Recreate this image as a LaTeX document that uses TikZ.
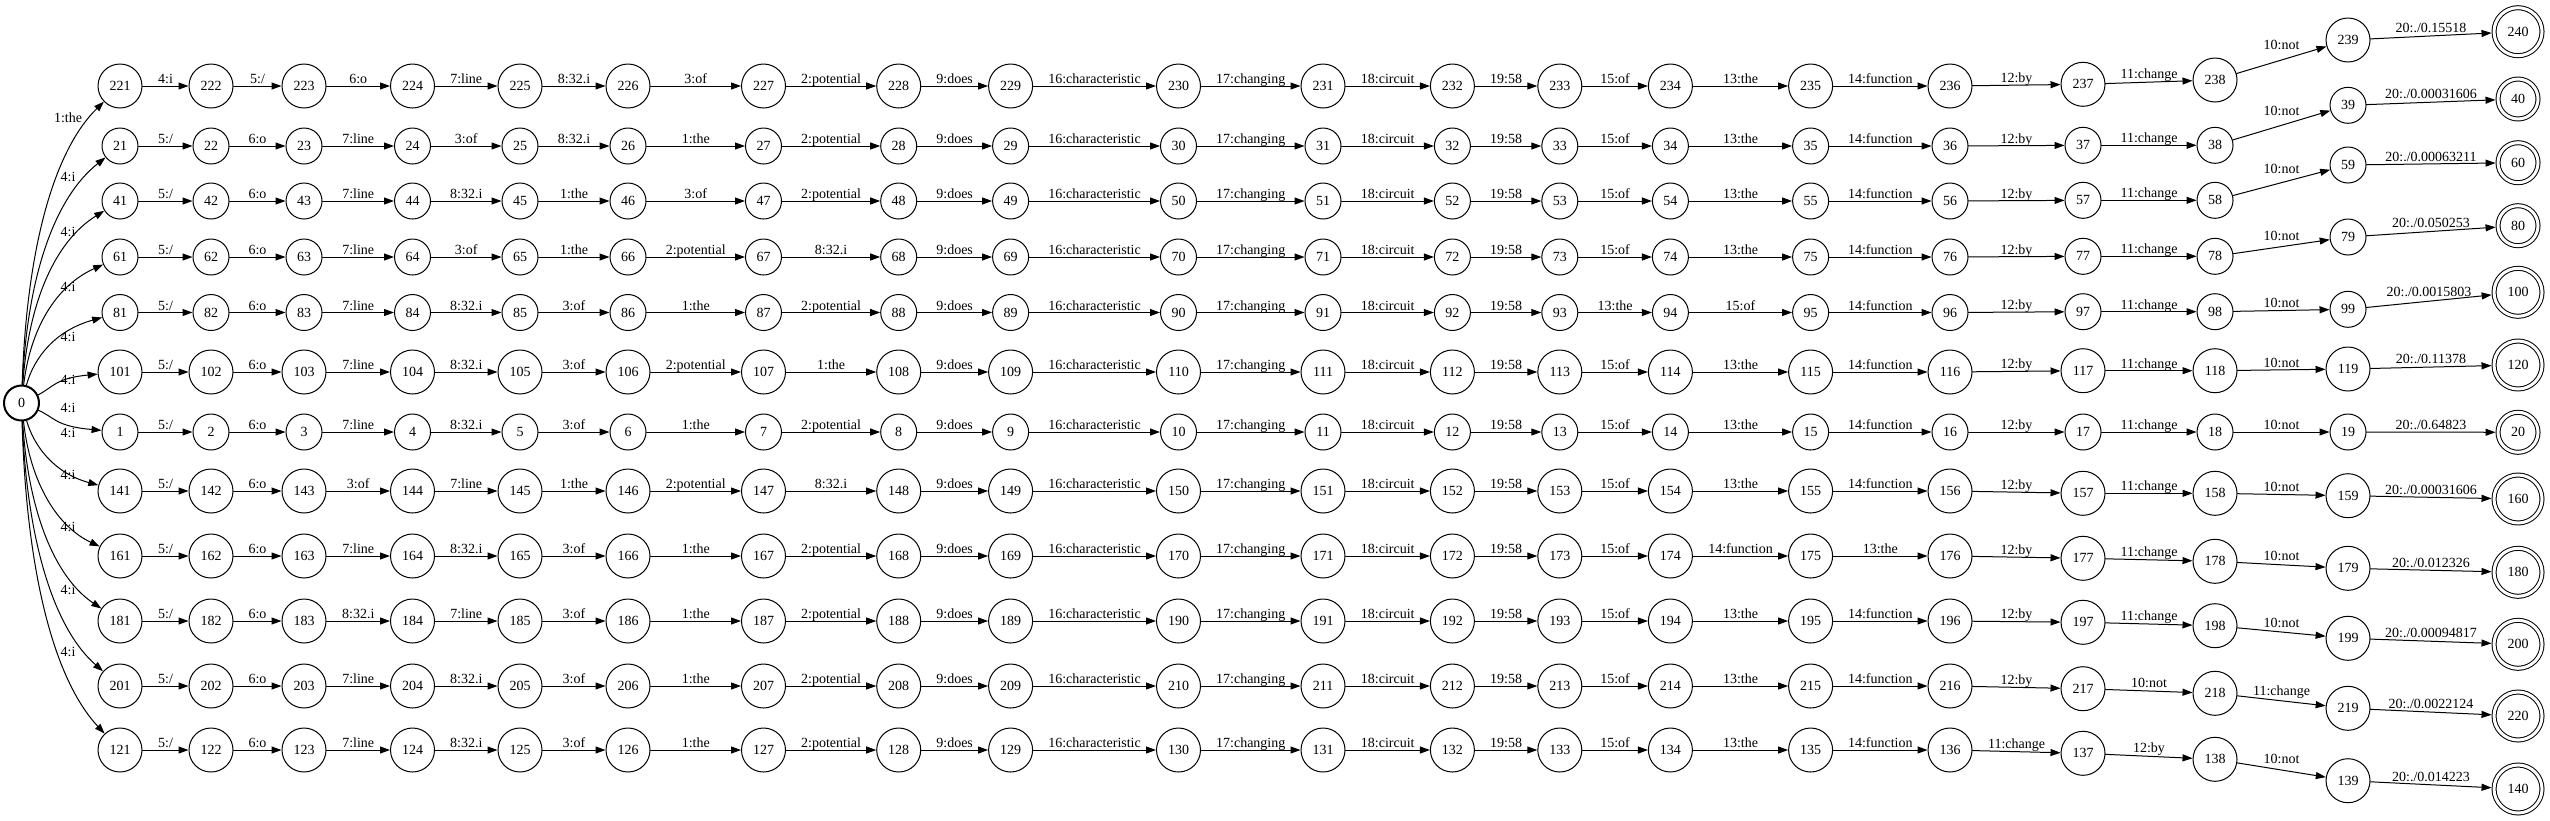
\documentclass[tikz,border=0pt]{standalone}
\usepackage{fontspec}
\setmainfont{Liberation Serif}
\usetikzlibrary{arrows.meta}

\tikzset{
  lab/.style={font=\fontsize{14}{16}\selectfont, inner sep=0pt, anchor=base},
  st/.style={circle, draw, line width=1pt, inner sep=0pt, minimum size=36pt, font=\fontsize{14}{16}\selectfont},
  bigst/.style={st, minimum size=44pt},
  startst/.style={st, line width=2pt, minimum size=35pt},
  fin/.style={st, double, double distance=3pt, minimum size=40pt, outer sep=2.5pt},
  bigfin/.style={fin, minimum size=48pt},
  tr/.style={-{Triangle[length=10pt,width=7pt]}, line width=1pt}
}

% x of the twenty columns
\newcommand\colx{{120,211,304,412.5,520,628,763.5,898.7,1010.6,1178.5,1323,1452.4,1559.8,1670.4,1810.6,1950,2083,2215,2348,2518}}
% y of column #2 of the current row
\newcommand\sety[2]{\pgfmathsetmacro#1{#2<17 ? \ya : (#2==17 ? \yb : (#2==18 ? \yc : (#2==19 ? \yd : \ye)))}}

% one path: first state, row y, y of the last four, arc label, its y, labels
\newcommand\fstrow[9]{%
  \def\ya{#2}\def\yb{#3}\def\yc{#4}\def\yd{#5}\def\ye{#6}%
  \foreach \i in {1,...,20}{%
    \pgfmathtruncatemacro\n{#1+\i-1}%
    \pgfmathsetmacro\xx{\colx[\i-1]}%
    \sety\yy\i
    \ifnum\i=20
      \ifnum\n>99 \node[bigfin] (n\n) at (\xx,\yy) {\n};\else\node[fin] (n\n) at (\xx,\yy) {\n};\fi
    \else
      \ifnum\n>99 \node[bigst] (n\n) at (\xx,\yy) {\n};\else\node[st] (n\n) at (\xx,\yy) {\n};\fi
    \fi
  }%
  % arc from the start state
  \pgfmathsetmacro\dy{#2-403}%
  \pgfmathsetmacro\cxa{24+900/abs(\dy)}%
  \pgfmathsetmacro\cya{403+0.5*\dy}%
  \pgfmathsetmacro\cyb{#2-0.2*\dy}%
  \draw[tr] (n0) .. controls (\cxa,\cya) and (55,\cyb) .. (n#1);
  \node[lab, anchor=center] (l#1) at (68,#8) {#7};
  % arcs along the path
  \foreach \lb [count=\i] in {#9}{%
    \pgfmathtruncatemacro\src{#1+\i-1}%
    \pgfmathtruncatemacro\dst{#1+\i}%
    \pgfmathtruncatemacro\j{\i+1}%
    \pgfmathsetmacro\xs{\colx[\i-1]}%
    \pgfmathsetmacro\xd{\colx[\i]}%
    \sety\ylo\i
    \sety\yhi\j
    \pgfmathsetmacro\lift{2.5+25*abs(\yhi-\ylo)/(\xd-\xs)}%
    \draw[tr] (n\src) -- (n\dst) node[lab, midway, yshift=\lift pt] {\lb};
  }%
}

\begin{document}
\begin{tikzpicture}[x=1pt, y=-1pt, line cap=round, line join=round]
\useasboundingbox (0,0) rectangle (2550,820);

\node[startst] (n0) at (21.5,403) {0};

\fstrow{221}{86}{84.3}{80}{40}{31.7}{1:the}{118}{4:i,5:/,6:o,7:line,8:32.i,3:of,2:potential,9:does,16:characteristic,17:changing,18:circuit,19:58,15:of,13:the,14:function,12:by,11:change,10:not,20:./0.15518}
\fstrow{21}{146}{145.3}{145.3}{105.3}{99}{4:i}{177}{5:/,6:o,7:line,3:of,8:32.i,1:the,2:potential,9:does,16:characteristic,17:changing,18:circuit,19:58,15:of,13:the,14:function,12:by,11:change,10:not,20:./0.00031606}
\fstrow{41}{201}{200.3}{200.3}{165}{162.7}{4:i}{232}{5:/,6:o,7:line,8:32.i,1:the,3:of,2:potential,9:does,16:characteristic,17:changing,18:circuit,19:58,15:of,13:the,14:function,12:by,11:change,10:not,20:./0.00063211}
\fstrow{61}{257}{256.3}{256.3}{237}{225.7}{4:i}{287}{5:/,6:o,7:line,3:of,1:the,2:potential,8:32.i,9:does,16:characteristic,17:changing,18:circuit,19:58,15:of,13:the,14:function,12:by,11:change,10:not,20:./0.050253}
\fstrow{81}{312.5}{311.7}{311.7}{309.3}{292.3}{4:i}{337}{5:/,6:o,7:line,8:32.i,3:of,1:the,2:potential,9:does,16:characteristic,17:changing,18:circuit,19:58,13:the,15:of,14:function,12:by,11:change,10:not,20:./0.0015803}
\fstrow{101}{372}{370.7}{370.7}{369}{365}{4:i}{380}{5:/,6:o,7:line,8:32.i,3:of,2:potential,1:the,9:does,16:characteristic,17:changing,18:circuit,19:58,15:of,13:the,14:function,12:by,11:change,10:not,20:./0.11378}
\fstrow{1}{432}{432}{432}{432}{432.3}{4:i}{408}{5:/,6:o,7:line,8:32.i,3:of,1:the,2:potential,9:does,16:characteristic,17:changing,18:circuit,19:58,15:of,13:the,14:function,12:by,11:change,10:not,20:./0.64823}
\fstrow{141}{491}{493.3}{493.3}{495.7}{499}{4:i}{433}{5:/,6:o,3:of,7:line,1:the,2:potential,8:32.i,9:does,16:characteristic,17:changing,18:circuit,19:58,15:of,13:the,14:function,12:by,11:change,10:not,20:./0.00031606}
\fstrow{161}{556}{558.3}{561.3}{568.3}{572.3}{4:i}{475}{5:/,6:o,7:line,8:32.i,3:of,1:the,2:potential,9:does,16:characteristic,17:changing,18:circuit,19:58,15:of,14:function,13:the,12:by,11:change,10:not,20:./0.012326}
\fstrow{181}{621}{622.3}{625.7}{638.3}{644.3}{4:i}{527}{5:/,6:o,8:32.i,7:line,3:of,1:the,2:potential,9:does,16:characteristic,17:changing,18:circuit,19:58,15:of,13:the,14:function,12:by,11:change,10:not,20:./0.00094817}
\fstrow{201}{686}{688.7}{693.3}{708.3}{716}{4:i}{590}{5:/,6:o,7:line,8:32.i,3:of,1:the,2:potential,9:does,16:characteristic,17:changing,18:circuit,19:58,15:of,13:the,14:function,12:by,10:not,11:change,20:./0.0022124}
\fstrow{121}{750}{753.3}{759.3}{780.7}{789}{4:i}{652}{5:/,6:o,7:line,8:32.i,3:of,1:the,2:potential,9:does,16:characteristic,17:changing,18:circuit,19:58,15:of,13:the,14:function,11:change,12:by,10:not,20:./0.014223}

\end{tikzpicture}
\end{document}
